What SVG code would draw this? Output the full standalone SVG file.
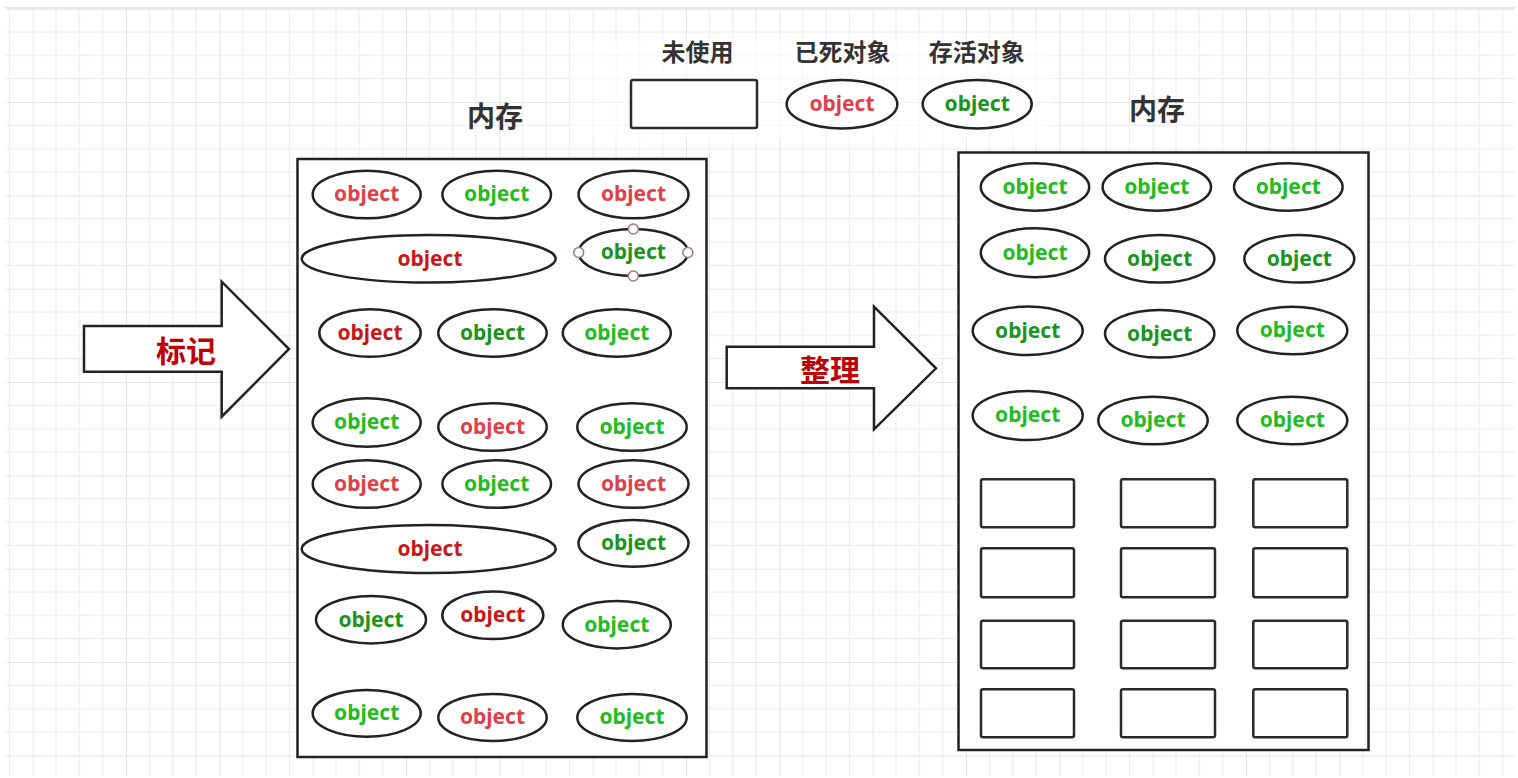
<svg xmlns="http://www.w3.org/2000/svg" width="1518" height="778" viewBox="0 0 1518 778">
<style>
.box{fill:#fff;stroke:#222;stroke-width:2.5}
.ell{fill:#fff;stroke:#222;stroke-width:2.5}
.slot{fill:#fff;stroke:#2a2a2a;stroke-width:2.5}
.obj{font-family:"Noto Sans","Liberation Sans",sans-serif;font-weight:bold;font-size:21px;text-anchor:middle}
.r1{fill:#e0404a}.r2{fill:#c81818}.g1{fill:#22bb22}.g2{fill:#1a941a}
.lbl{font-family:"Noto Sans CJK SC","Noto Sans",sans-serif;font-weight:bold;fill:#333;text-anchor:middle}
.arr{fill:#fff;stroke:#222;stroke-width:2.5;stroke-linejoin:miter}
.act{font-family:"Noto Sans CJK SC",sans-serif;font-weight:bold;font-size:30px;fill:#c00000;text-anchor:middle}
.hdl{fill:#fff;stroke:#a87878;stroke-width:1.5}
</style>
<defs>
<pattern id="grid" x="32.7" y="8.7" width="93.333" height="93.333" patternUnits="userSpaceOnUse">
<path d="M23.333 0V93.333M46.667 0V93.333M70 0V93.333M0 23.333H93.333M0 46.667H93.333M0 70H93.333" fill="none" stroke="#eaeaea" stroke-width="1"/>
<path d="M0 0V93.333M0 0H93.333" fill="none" stroke="#dedede" stroke-width="1.5"/>
</pattern>
</defs>
<rect x="0" y="0" width="1518" height="778" fill="#fff"/>
<rect x="5" y="8" width="1510" height="768" fill="url(#grid)"/>
<line x1="5" y1="8" x2="1515" y2="8" stroke="#e6e6e6" stroke-width="2"/>

<g id="legend">
<rect x="572" y="38" width="480" height="102" fill="#fff" opacity="0.55"/>
<text class="lbl" x="697.5" y="61" font-size="24">未使用</text>
<text class="lbl" x="842.5" y="61" font-size="24">已死对象</text>
<text class="lbl" x="976.7" y="61" font-size="24">存活对象</text>
<rect class="slot" x="631" y="80" width="126" height="48" rx="2"/>
<ellipse class="ell" cx="842" cy="104.2" rx="55.3" ry="24.2"/>
<text class="obj r1" x="842" y="111">object</text>
<ellipse class="ell" cx="977.2" cy="104.2" rx="54.5" ry="24.2"/>
<text class="obj g2" x="977.2" y="111">object</text>
</g>

<g id="connectors">
<g id="mark-arrow">
<polygon class="arr" points="84,326 221.7,326 221.7,281.7 289,349 221.7,416.7 221.7,371.7 84,371.7"/>
<text class="act" x="186" y="362">标记</text>
</g>
<g id="compact-arrow">
<polygon class="arr" points="726.7,346.7 874,346.7 874,306.7 936,368.3 874,429.3 874,388.3 726.7,388.3"/>
<text class="act" x="830" y="381">整理</text>
</g>
</g>

<g id="memory-before">
<text class="lbl" x="495" y="127" font-size="28">内存</text>
<rect class="box" x="297.5" y="159" width="409" height="598"/>
<g id="l1"><ellipse class="ell" cx="366.7" cy="194.5" rx="54" ry="23.8"/><text class="obj r1" x="366.7" y="201">object</text></g>
<g id="l2"><ellipse class="ell" cx="496.7" cy="194.5" rx="54.3" ry="23.8"/><text class="obj g1" x="496.7" y="201">object</text></g>
<g id="l3"><ellipse class="ell" cx="633.5" cy="194.5" rx="55" ry="23.8"/><text class="obj r1" x="633.5" y="201">object</text></g>
<g id="l4"><ellipse class="ell" cx="428.7" cy="258.8" rx="127" ry="23.8"/><text class="obj r2" x="430" y="265.5">object</text></g>
<g id="l5"><ellipse class="ell" cx="633.3" cy="252.5" rx="54.6" ry="23.5"/><text class="obj g2" x="633.3" y="259">object</text>
<circle class="hdl" cx="633.3" cy="229" r="5"/><circle class="hdl" cx="633.3" cy="276" r="5"/><circle class="hdl" cx="578.7" cy="252.5" r="5"/><circle class="hdl" cx="687.9" cy="252.5" r="5"/></g>
<g id="l6"><ellipse class="ell" cx="370" cy="333" rx="50.7" ry="23.7"/><text class="obj r2" x="370" y="339.5">object</text></g>
<g id="l7"><ellipse class="ell" cx="492.5" cy="333" rx="54.2" ry="23.7"/><text class="obj g2" x="492.5" y="339.5">object</text></g>
<g id="l8"><ellipse class="ell" cx="616.8" cy="333" rx="54" ry="23.7"/><text class="obj g1" x="616.8" y="339.5">object</text></g>
<g id="l9"><ellipse class="ell" cx="366.7" cy="422.5" rx="54" ry="24.2"/><text class="obj g1" x="366.7" y="429">object</text></g>
<g id="l10"><ellipse class="ell" cx="492.5" cy="427" rx="54.2" ry="23.8"/><text class="obj r1" x="492.5" y="433.5">object</text></g>
<g id="l11"><ellipse class="ell" cx="632" cy="427" rx="54.7" ry="23.8"/><text class="obj g1" x="632" y="433.5">object</text></g>
<g id="l12"><ellipse class="ell" cx="366.7" cy="484" rx="54" ry="23.8"/><text class="obj r1" x="366.7" y="490.5">object</text></g>
<g id="l13"><ellipse class="ell" cx="496.7" cy="484" rx="54.3" ry="23.8"/><text class="obj g1" x="496.7" y="490.5">object</text></g>
<g id="l14"><ellipse class="ell" cx="633.5" cy="484" rx="55" ry="23.8"/><text class="obj r1" x="633.5" y="490.5">object</text></g>
<g id="l15"><ellipse class="ell" cx="428.7" cy="549" rx="127" ry="24"/><text class="obj r2" x="430" y="556">object</text></g>
<g id="l16"><ellipse class="ell" cx="633.5" cy="543.3" rx="55" ry="23.4"/><text class="obj g2" x="633.5" y="550">object</text></g>
<g id="l17"><ellipse class="ell" cx="371" cy="619.7" rx="55" ry="23.7"/><text class="obj g2" x="371" y="626.5">object</text></g>
<g id="l18"><ellipse class="ell" cx="492.8" cy="615.3" rx="50.5" ry="23.7"/><text class="obj r2" x="492.8" y="622">object</text></g>
<g id="l19"><ellipse class="ell" cx="616.8" cy="624.7" rx="54" ry="23.7"/><text class="obj g1" x="616.8" y="631.5">object</text></g>
<g id="l20"><ellipse class="ell" cx="366.7" cy="713.3" rx="54" ry="23.4"/><text class="obj g1" x="366.7" y="720">object</text></g>
<g id="l21"><ellipse class="ell" cx="492.5" cy="717.5" rx="54.2" ry="23.5"/><text class="obj r1" x="492.5" y="724">object</text></g>
<g id="l22"><ellipse class="ell" cx="632" cy="717.5" rx="54.7" ry="23.5"/><text class="obj g1" x="632" y="724">object</text></g>
</g>

<g id="memory-after">
<text class="lbl" x="1157" y="120" font-size="28">内存</text>
<rect class="box" x="958.5" y="152.5" width="410" height="597.5"/>
<g id="r1"><ellipse class="ell" cx="1035" cy="187" rx="54.2" ry="23.7"/><text class="obj g1" x="1035" y="193.5">object</text></g>
<g id="r2"><ellipse class="ell" cx="1156.8" cy="187" rx="54.2" ry="23.7"/><text class="obj g1" x="1156.8" y="193.5">object</text></g>
<g id="r3"><ellipse class="ell" cx="1288.3" cy="187" rx="54.3" ry="23.7"/><text class="obj g1" x="1288.3" y="193.5">object</text></g>
<g id="r4"><ellipse class="ell" cx="1035" cy="252.8" rx="54.2" ry="24.5"/><text class="obj g1" x="1035" y="259.5">object</text></g>
<g id="r5"><ellipse class="ell" cx="1159.7" cy="258.8" rx="54.7" ry="23.8"/><text class="obj g2" x="1159.7" y="265.5">object</text></g>
<g id="r6"><ellipse class="ell" cx="1299.3" cy="258.8" rx="55" ry="23.8"/><text class="obj g2" x="1299.3" y="265.5">object</text></g>
<g id="r7"><ellipse class="ell" cx="1027.7" cy="330.8" rx="55" ry="24.2"/><text class="obj g2" x="1027.7" y="337.5">object</text></g>
<g id="r8"><ellipse class="ell" cx="1159.7" cy="333.8" rx="54.7" ry="23.8"/><text class="obj g2" x="1159.7" y="340.5">object</text></g>
<g id="r9"><ellipse class="ell" cx="1292.3" cy="330.5" rx="55" ry="23.8"/><text class="obj g1" x="1292.3" y="337">object</text></g>
<g id="r10"><ellipse class="ell" cx="1027.7" cy="415.5" rx="55" ry="24.5"/><text class="obj g1" x="1027.7" y="422">object</text></g>
<g id="r11"><ellipse class="ell" cx="1153" cy="420.5" rx="54.7" ry="23.8"/><text class="obj g1" x="1153" y="427">object</text></g>
<g id="r12"><ellipse class="ell" cx="1292.3" cy="420.5" rx="55" ry="23.8"/><text class="obj g1" x="1292.3" y="427">object</text></g>
<g id="free-slots">
<rect class="slot" x="981" y="479.3" width="93" height="48" rx="2"/>
<rect class="slot" x="1121" y="479.3" width="94" height="48" rx="2"/>
<rect class="slot" x="1253.3" y="479.3" width="94" height="48" rx="2"/>
<rect class="slot" x="981" y="548.3" width="93" height="49" rx="2"/>
<rect class="slot" x="1121" y="548.3" width="94" height="49" rx="2"/>
<rect class="slot" x="1253.3" y="548.3" width="94" height="49" rx="2"/>
<rect class="slot" x="981" y="620.7" width="93" height="47.6" rx="2"/>
<rect class="slot" x="1121" y="620.7" width="94" height="47.6" rx="2"/>
<rect class="slot" x="1253.3" y="620.7" width="94" height="47.6" rx="2"/>
<rect class="slot" x="981" y="689.3" width="93" height="48" rx="2"/>
<rect class="slot" x="1121" y="689.3" width="94" height="48" rx="2"/>
<rect class="slot" x="1253.3" y="689.3" width="94" height="48" rx="2"/>
</g>
</g>
</svg>
